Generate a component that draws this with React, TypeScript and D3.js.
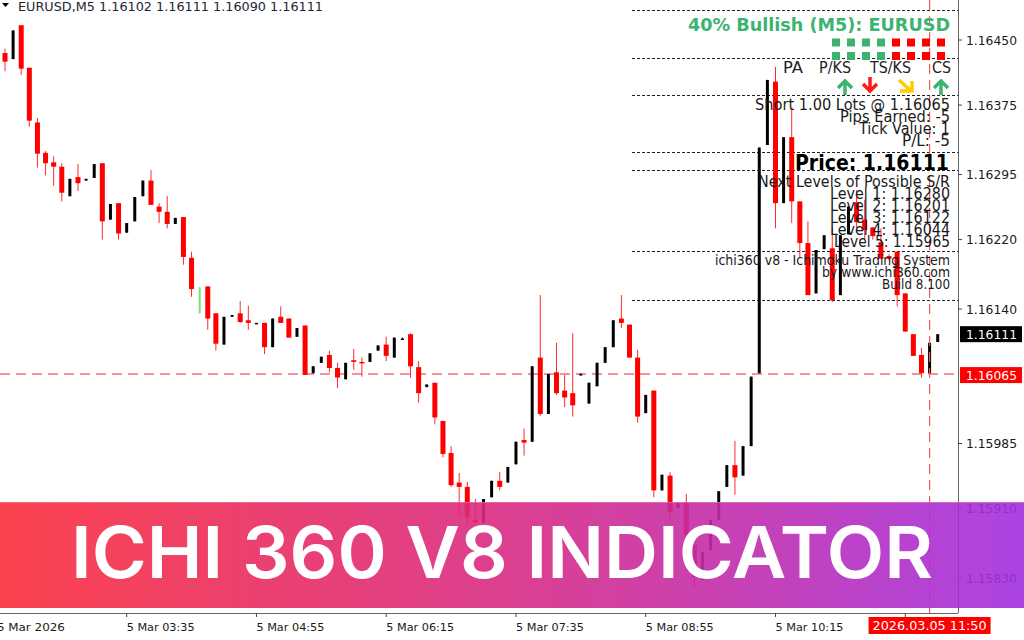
import React from "react";
import * as d3 from "d3";

// ---------- data ----------
const symbolHeader = "EURUSD,M5  1.16102 1.16111 1.16090 1.16111";

const opens = [
  1.16435, 1.16428, 1.16467, 1.16418, 1.16355, 1.1632, 1.16309, 1.16304, 1.1627, 1.16292,
  1.16288, 1.16291, 1.16308, 1.16243, 1.16262, 1.16228, 1.16241, 1.1627, 1.16288, 1.16258,
  1.16252, 1.16238, 1.16246, 1.16199, 1.16135, 1.16166, 1.16135, 1.16099, 1.16131, 1.16135,
  1.16127, 1.16123, 1.16124, 1.16096, 1.16131, 1.16129, 1.16108, 1.16121, 1.16066, 1.16078,
  1.16087, 1.16072, 1.16059, 1.16081, 1.16079, 1.16079, 1.16092, 1.16099, 1.16084, 1.16106,
  1.16111, 1.16073, 1.1605, 1.16055, 1.16011, 1.15974, 1.1594, 1.15935, 1.15897, 1.15894,
  1.15923, 1.15942, 1.1594, 1.15961, 1.15989, 1.15987, 1.16084, 1.16019, 1.16067, 1.16046,
  1.16043, 1.16065, 1.16031, 1.16051, 1.16078, 1.16096, 1.16129, 1.16122, 1.16084, 1.1602,
  1.16046, 1.15931, 1.15948, 1.15911, 1.15917, 1.15868, 1.15828, 1.15862, 1.15897, 1.15935,
  1.1596, 1.15948, 1.15982, 1.16066, 1.16329, 1.16402, 1.16262, 1.16338, 1.16264, 1.16216,
  1.16158, 1.16209, 1.1621, 1.16156, 1.16226, 1.16263, 1.16243, 1.16234, 1.16217, 1.16201,
  1.16206, 1.16158, 1.16111, 1.16087, 1.16066, 1.16102,
];
const highs = [
  1.1644, 1.16461, 1.16467, 1.16418, 1.1636, 1.16322, 1.16316, 1.16308, 1.1629, 1.16307,
  1.1629, 1.16307, 1.16308, 1.16261, 1.16262, 1.16239, 1.16269, 1.16288, 1.163, 1.16262,
  1.1627, 1.16245, 1.16246, 1.16206, 1.16165, 1.16166, 1.16135, 1.16131, 1.16133, 1.16149,
  1.16144, 1.16124, 1.16124, 1.16129, 1.16143, 1.16129, 1.16118, 1.16121, 1.16074, 1.16085,
  1.16092, 1.16078, 1.16078, 1.16094, 1.16084, 1.16089, 1.16098, 1.16108, 1.16107, 1.16107,
  1.16112, 1.1608, 1.16053, 1.16055, 1.16011, 1.15982, 1.15951, 1.15941, 1.15921, 1.15921,
  1.15942, 1.15952, 1.15958, 1.15987, 1.16002, 1.16074, 1.16156, 1.16065, 1.16101, 1.16064,
  1.16112, 1.16066, 1.16055, 1.16078, 1.16096, 1.16127, 1.16156, 1.16122, 1.16093, 1.16041,
  1.16046, 1.15949, 1.15952, 1.15917, 1.15927, 1.15877, 1.1586, 1.15897, 1.1593, 1.1596,
  1.15988, 1.15982, 1.16062, 1.16326, 1.16404, 1.16419, 1.16338, 1.16372, 1.16264, 1.16241,
  1.16208, 1.16225, 1.16234, 1.16225, 1.16258, 1.16277, 1.16266, 1.16234, 1.16233, 1.16203,
  1.16206, 1.16158, 1.16111, 1.16095, 1.16101, 1.16111,
];
const lows = [
  1.16414, 1.16428, 1.1641, 1.1635, 1.16303, 1.16294, 1.16282, 1.16264, 1.1627, 1.16276,
  1.16288, 1.16291, 1.1622, 1.16243, 1.1622, 1.16228, 1.16241, 1.1627, 1.1626, 1.16239,
  1.16233, 1.16238, 1.16191, 1.16154, 1.16135, 1.16116, 1.16092, 1.16099, 1.16131, 1.16124,
  1.16116, 1.16123, 1.16088, 1.16096, 1.16124, 1.16107, 1.16108, 1.16064, 1.16066, 1.16078,
  1.16067, 1.16049, 1.16059, 1.1607, 1.16062, 1.16079, 1.16092, 1.1608, 1.16084, 1.16105,
  1.16061, 1.16032, 1.1605, 1.16007, 1.15969, 1.15935, 1.15903, 1.15891, 1.15894, 1.15894,
  1.15923, 1.15931, 1.1594, 1.15961, 1.15971, 1.15987, 1.16017, 1.16019, 1.16041, 1.16027,
  1.16016, 1.16064, 1.16031, 1.16051, 1.16078, 1.16096, 1.16118, 1.16084, 1.16009, 1.1602,
  1.15923, 1.15931, 1.15894, 1.15911, 1.1588, 1.15819, 1.15828, 1.15862, 1.15897, 1.15935,
  1.15926, 1.15948, 1.15982, 1.16066, 1.16329, 1.16233, 1.16262, 1.16239, 1.16199, 1.16156,
  1.16158, 1.16209, 1.16148, 1.16156, 1.16226, 1.16233, 1.1622, 1.1622, 1.16198, 1.16196,
  1.16143, 1.16114, 1.16086, 1.16061, 1.16066, 1.16102,
];
const closes = [
  1.16425, 1.16461, 1.16417, 1.16357, 1.16319, 1.16308, 1.16304, 1.16274, 1.1629, 1.16285,
  1.1629, 1.16307, 1.16241, 1.16261, 1.16227, 1.16239, 1.16269, 1.16288, 1.1626, 1.16252,
  1.16238, 1.16245, 1.162, 1.16163, 1.16165, 1.16129, 1.161, 1.16131, 1.16133, 1.16125,
  1.16124, 1.16124, 1.16096, 1.16129, 1.16124, 1.16107, 1.16118, 1.16064, 1.16074, 1.16085,
  1.16072, 1.16061, 1.16078, 1.16079, 1.16078, 1.16089, 1.16098, 1.16086, 1.16107, 1.16106,
  1.16074, 1.16043, 1.16053, 1.16015, 1.15973, 1.15937, 1.15935, 1.159, 1.15894, 1.15921,
  1.15942, 1.15935, 1.15958, 1.15987, 1.15986, 1.16074, 1.16019, 1.16065, 1.16043, 1.16038,
  1.16029, 1.16065, 1.16055, 1.16078, 1.16096, 1.16127, 1.16124, 1.16084, 1.16016, 1.16041,
  1.15931, 1.15949, 1.15906, 1.15917, 1.1588, 1.15831, 1.1586, 1.15897, 1.1593, 1.1596,
  1.15946, 1.15982, 1.16062, 1.16326, 1.16404, 1.16262, 1.16338, 1.16264, 1.16216, 1.16156,
  1.16208, 1.16225, 1.1615, 1.16225, 1.16258, 1.1624, 1.16231, 1.16224, 1.16198, 1.16198,
  1.16156, 1.16114, 1.16086, 1.16066, 1.16101, 1.16111,
];
const highlightBar = 24; // the light green bar

const priceTicks = [1.1645, 1.16375, 1.16295, 1.1622, 1.1614, 1.15985, 1.1591, 1.1583];
const timeTickBars = [-1, 15, 31, 47, 63, 79, 95, 111];
const timeTickLabels = [
  "5 Mar 2026", "5 Mar 03:35", "5 Mar 04:55", "5 Mar 06:15",
  "5 Mar 07:35", "5 Mar 08:55", "5 Mar 10:15",
];
const crosshairBar = 114;
const crosshairLabel = "2026.03.05 11:50";
const orderPrice = 1.16065;
const lastPrice = 1.16111;

const panelLevels = [1.16485, 1.16429, 1.16387, 1.16321, 1.163, 1.16207, 1.1615];
const signalTitle = "40% Bullish (M5): EURUSD";
const signalRow1 = [1, 1, 1, 1, 0, 0, 0, 0];
const signalRow2 = [1, 1, 1, 1, 0, 0, 0, 0];
const trendNames = ["PA", "P/KS", "TS/KS", "CS"];
const trendDirs = ["up", "down", "downright", "up"];
const tradeLines = [
  "Short 1.00 Lots @ 1.16065",
  "Pips Earned: -5",
  "Tick Value: 1",
  "P/L: -5",
];
const priceLine = "Price: 1.16111";
const levelLines = [
  "Next Levels of Possible S/R",
  "Level 1: 1.16280",
  "Level 2: 1.16201",
  "Level 3: 1.16122",
  "Level 4: 1.16044",
  "Level 5: 1.15965",
];
const creditLines = ["ichi360 v8 - Ichimoku Trading System", "by www.ichi360.com", "Build 8.100"];
const bannerTitle = "ICHI 360 V8 INDICATOR";

// ---------- component ----------
export default function App() {
  const W = 1024;
  const H = 640;
  const plotRight = 958;
  const plotBottom = 613;
  const x = d3.scaleLinear().domain([0, opens.length - 1]).range([5, 937.7]);
  const y = d3.scaleLinear().domain([1.1583, 1.1645]).range([578, 40]);
  const font = "'DejaVu Sans', Verdana, sans-serif";
  const green = "#3cb371";

  const candles = opens.map((o, i) => ({
    i, o, h: highs[i], l: lows[i], c: closes[i],
  }));

  // panel layout (pixel positions of the text block)
  const tradeLayout = [
    { base: 110, w: 195 }, { base: 122, w: 110 }, { base: 134, w: 91 }, { base: 146, w: 48 },
  ];
  const levelLayout = [
    { base: 187, w: 192 }, { base: 199, w: 120 }, { base: 211, w: 120 },
    { base: 223, w: 120 }, { base: 235, w: 120 }, { base: 247, w: 116 },
  ];
  const creditLayout = [{ base: 265, w: 235 }, { base: 277, w: 128 }, { base: 289, w: 68 }];
  const trendLayout = [
    { x: 783, w: 20, ax: 845 }, { x: 819, w: 32, ax: 870 },
    { x: 870, w: 41, ax: 906 }, { x: 932, w: 19, ax: 941 },
  ];

  const arrow = (dir: string, cx: number, k: number) => {
    const colors: Record<string, string> = { up: green, down: "#ff1a1a", downright: "#ffcc00" };
    let d = "";
    if (dir === "up") d = `M${cx},95 L${cx},81 M${cx - 7},88 L${cx},81 L${cx + 7},88`;
    else if (dir === "down") d = `M${cx},77 L${cx},91 M${cx - 7},84 L${cx},91 L${cx + 7},84`;
    else d = `M${cx - 7},80 L${cx + 5},91 M${cx - 6},91 L${cx + 6},91 L${cx + 6},81`;
    return (
      <path key={k} d={d} fill="none" stroke={colors[dir]} strokeWidth={3.5}
        strokeLinejoin="miter" />
    );
  };

  return (
    <svg width={W} height={H} style={{ position: "fixed", left: 0, top: 0, background: "#fff" }}
      xmlns="http://www.w3.org/2000/svg">
      <defs>
        <linearGradient id="bannerGrad" x1="0" x2="1" y1="0" y2="0">
          <stop offset="0" stopColor="#fb2d3a" />
          <stop offset="0.5" stopColor="#d82a84" />
          <stop offset="1" stopColor="#a22fe0" />
        </linearGradient>
      </defs>
      <rect x={0} y={0} width={W} height={H} fill="#fff" />

      {/* header */}
      <path d="M2,3 L9,3 L5.5,7 Z" fill="#000" />
      <text x={18} y={11} fontFamily={font} fontSize={11.5} fill="#1c2733"
        textLength={305} lengthAdjust="spacingAndGlyphs">{symbolHeader}</text>

      {/* panel dashed separators */}
      {panelLevels.map((p, k) => (
        <line key={k} x1={632} x2={plotRight} y1={Math.round(y(p)) + 0.5} y2={Math.round(y(p)) + 0.5}
          stroke="#222" strokeWidth={1} strokeDasharray="3,2" />
      ))}

      {/* order line */}
      <line x1={0} x2={plotRight} y1={y(orderPrice)} y2={y(orderPrice)}
        stroke="#ee7272" strokeWidth={1.5} strokeDasharray="10,6" />

      {/* candles: wicks */}
      {candles.map((d) => (
        <line key={"w" + d.i} x1={x(d.i)} x2={x(d.i)} y1={y(d.h)} y2={y(d.l)}
          stroke={d.i === highlightBar ? "#7be37b" : d.c < d.o ? "#ff2a2a" : "#000"}
          strokeWidth={1} />
      ))}
      {/* candles: bodies */}
      {candles.map((d) => {
        const bear = d.c < d.o;
        const top = y(Math.max(d.o, d.c));
        const hgt = Math.max(1.5, Math.abs(y(d.o) - y(d.c)));
        if (d.i === highlightBar) {
          return <rect key={"b" + d.i} x={x(d.i) - 1} y={top} width={2} height={hgt} fill="#7be37b" />;
        }
        return bear ? (
          <rect key={"b" + d.i} x={x(d.i) - 2.5} y={top} width={5} height={hgt} fill="#ff0000" />
        ) : (
          <rect key={"b" + d.i} x={x(d.i) - 1.5} y={top} width={3} height={hgt} fill="#000" />
        );
      })}

      {/* crosshair vertical */}
      <line x1={x(crosshairBar)} x2={x(crosshairBar)} y1={0} y2={plotBottom}
        stroke="#ee5a5a" strokeWidth={1.2} strokeDasharray="10,6" />

      {/* signal title and squares */}
      <text x={950} y={31} textAnchor="end" fontFamily={font} fontWeight="bold" fontSize={17.5}
        fill={green} textLength={262} lengthAdjust="spacingAndGlyphs">{signalTitle}</text>
      {signalRow1.map((s, k) => (
        <rect key={"s1" + k} x={832 + k * 15} y={38.5} width={8} height={8} fill={s ? green : "#ff0000"} />
      ))}
      {signalRow2.map((s, k) => (
        <rect key={"s2" + k} x={832 + k * 15} y={52} width={8} height={8} fill={s ? green : "#ff0000"} />
      ))}
      {trendNames.map((t, k) => (
        <text key={"t" + k} x={trendLayout[k].x} y={73} fontFamily={font} fontSize={15.5} fill="#222"
          textLength={trendLayout[k].w} lengthAdjust="spacingAndGlyphs">{t}</text>
      ))}
      {trendDirs.map((dir, k) => arrow(dir, trendLayout[k].ax, k))}

      {tradeLines.map((t, k) => (
        <text key={"tr" + k} x={950} y={tradeLayout[k].base} textAnchor="end" fontFamily={font}
          fontSize={16.5} fill="#1a1a1a" textLength={tradeLayout[k].w}
          lengthAdjust="spacingAndGlyphs">{t}</text>
      ))}
      <text x={949} y={170} textAnchor="end" fontFamily={font} fontWeight="bold" fontSize={20.5}
        fill="#000" textLength={154} lengthAdjust="spacingAndGlyphs">{priceLine}</text>
      {levelLines.map((t, k) => (
        <text key={"lv" + k} x={950} y={levelLayout[k].base} textAnchor="end" fontFamily={font}
          fontSize={16.5} fill="#1a1a1a" textLength={levelLayout[k].w}
          lengthAdjust="spacingAndGlyphs">{t}</text>
      ))}
      {creditLines.map((t, k) => (
        <text key={"cr" + k} x={950} y={creditLayout[k].base} textAnchor="end" fontFamily={font}
          fontSize={14} fill="#1a1a1a" textLength={creditLayout[k].w}
          lengthAdjust="spacingAndGlyphs">{t}</text>
      ))}

      {/* frame */}
      <line x1={plotRight + 0.5} x2={plotRight + 0.5} y1={0} y2={plotBottom} stroke="#666" strokeWidth={1} />
      <line x1={0} x2={plotRight} y1={plotBottom + 0.5} y2={plotBottom + 0.5} stroke="#666" strokeWidth={1} />

      {/* price axis */}
      {priceTicks.map((p, k) => (
        <g key={"pt" + k}>
          <line x1={plotRight} x2={plotRight + 4} y1={y(p)} y2={y(p)} stroke="#444" />
          <text x={966} y={y(p) + 4.5} fontFamily={font} fontSize={12.5} fill="#1a1a1a"
            textLength={51} lengthAdjust="spacingAndGlyphs">{p.toFixed(5)}</text>
        </g>
      ))}
      <rect x={960} y={y(lastPrice) - 8} width={62} height={16} fill="#000" />
      <text x={966} y={y(lastPrice) + 4.5} fontFamily={font} fontSize={12.5} fill="#fff"
        textLength={51} lengthAdjust="spacingAndGlyphs">{lastPrice.toFixed(5)}</text>
      <rect x={960} y={y(orderPrice) - 7} width={62} height={16} fill="#ff0000" />
      <text x={966} y={y(orderPrice) + 5.5} fontFamily={font} fontSize={12.5} fill="#fff"
        textLength={51} lengthAdjust="spacingAndGlyphs">{orderPrice.toFixed(5)}</text>

      {/* time axis */}
      {timeTickBars.map((b, k) => (
        <g key={"tt" + k}>
          <line x1={x(b)} x2={x(b)} y1={plotBottom} y2={plotBottom + 4} stroke="#444" />
          {timeTickLabels[k] && (
            <text x={x(b)} y={631} fontFamily={font} fontSize={11} fill="#1a1a1a"
              textLength={68} lengthAdjust="spacingAndGlyphs">{timeTickLabels[k]}</text>
          )}
        </g>
      ))}
      <rect x={x(crosshairBar) - 61} y={617} width={122} height={17} fill="#ff0000" />
      <text x={x(crosshairBar)} y={630} textAnchor="middle" fontFamily={font} fontSize={12}
        fill="#fff" textLength={114} lengthAdjust="spacingAndGlyphs">{crosshairLabel}</text>

      {/* banner */}
      <rect x={0} y={502} width={W} height={106} fill="url(#bannerGrad)" opacity={0.9} />
      <line x1={0} x2={W} y1={502.5} y2={502.5} stroke="#ff8aa8" strokeOpacity={0.5} />
      <text x={71} y={578} fontFamily="Inter, 'Open Sans', sans-serif" fontWeight={600}
        fontSize={71} fill="#fff" textLength={862} lengthAdjust="spacingAndGlyphs">{bannerTitle}</text>
    </svg>
  );
}
